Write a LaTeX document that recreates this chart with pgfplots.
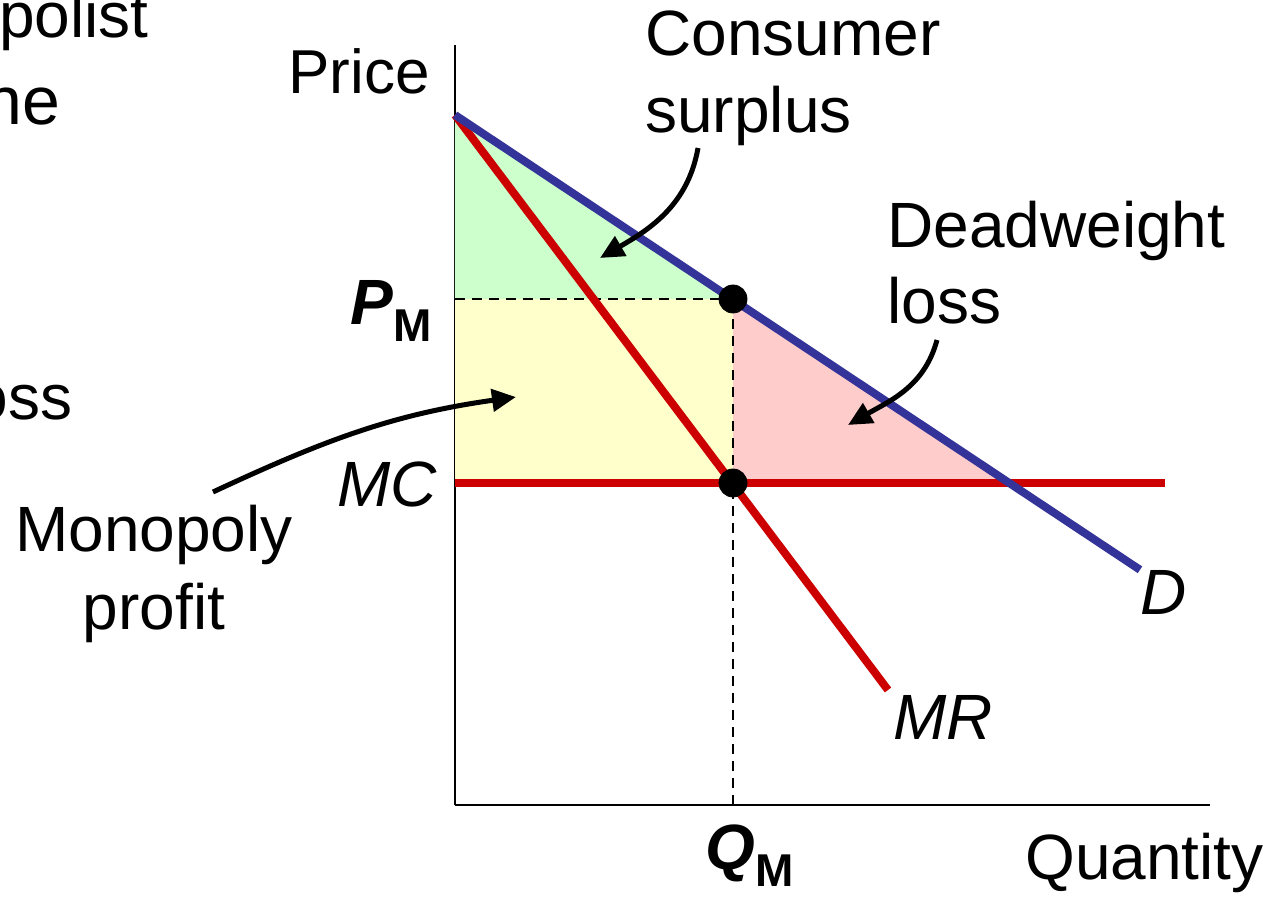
\documentclass[border=0pt]{standalone}
\usepackage{pgfplots}
\pgfplotsset{compat=1.18}
\usepackage{fontspec}
\setmainfont{Liberation Sans}
\usetikzlibrary{arrows.meta}
\definecolor{dblue}{HTML}{333399}
\definecolor{mred}{HTML}{CC0000}
\definecolor{csg}{HTML}{CCFFCC}
\definecolor{mpy}{HTML}{FFFFCC}
\definecolor{dwl}{HTML}{FFCCCC}
\newcommand\lab{\fontsize{32}{38}\selectfont}
\begin{document}
\begin{tikzpicture}[x=0.5pt,y=0.5pt]
\begin{axis}[
  at={(455,94)}, anchor=south west,
  scale only axis, width=377.5pt, height=380pt,
  xmin=0, xmax=755, ymin=0, ymax=760,
  axis x line=bottom, axis y line=left,
  axis line style={-, line width=1pt, black},
  xtick=\empty, ytick=\empty,
  clip=false,
]
% areas
\addplot[fill=csg, draw=none] coordinates {(0,690) (0,506) (278,506)} -- cycle;
\addplot[fill=mpy, draw=none] coordinates {(0,322) (278,322) (278,506) (0,506)} -- cycle;
\addplot[fill=dwl, draw=none] coordinates {(278,506) (278,322) (554.2,322)} -- cycle;
% dashed guides
\addplot[black, line width=1pt, dash pattern=on 5pt off 3.5pt] coordinates {(0,506) (278,506)};
\addplot[black, line width=1pt, dash pattern=on 5pt off 3.5pt] coordinates {(278,0) (278,506)};
% MC
\addplot[mred, line width=4pt] coordinates {(0,322) (710,322)};
% MR
\addplot[mred, line width=4pt] coordinates {(0,690) (433,115)};
% D
\addplot[dblue, line width=4pt] coordinates {(0,690) (685,235.2)};
% points
\addplot[only marks, mark=*, mark size=7pt, black] coordinates {(278,506) (278,322)};

% arrows
\draw[line width=2.5pt, -{Triangle[length=12pt,width=11pt]}] (axis cs:243,657) to[out=-100,in=30] (axis cs:145,547);
\draw[line width=2.5pt, -{Triangle[length=12pt,width=11pt]}] (axis cs:482,465) to[out=-105,in=30] (axis cs:393,380);
\draw[line width=2.5pt, -{Triangle[length=12pt,width=11pt]}] (axis cs:-242,313) to[out=25,in=188] (axis cs:61,408);

% labels
\node[anchor=base east, inner sep=0, font=\fontsize{31}{37}\selectfont] at (axis cs:-25,711) {Price};
\node[anchor=base west, inner sep=0, font=\lab] at (axis cs:190,749) {Consumer};
\node[anchor=base west, inner sep=0, font=\lab] at (axis cs:190,672) {surplus};
\node[anchor=base west, inner sep=0, font=\lab] at (axis cs:432,557) {Deadweight};
\node[anchor=base west, inner sep=0, font=\lab] at (axis cs:432,481) {loss};
\node[anchor=base east, inner sep=0, font=\lab] at (axis cs:-23,480) {\bfseries\itshape P\raisebox{-8.5pt}{\fontsize{23}{27}\selectfont\upshape M}};
\node[anchor=base east, inner sep=0, font=\lab] at (axis cs:-18,298) {\itshape MC};
\node[anchor=base, inner sep=0, font=\lab] at (axis cs:-301,253) {Monopoly};
\node[anchor=base, inner sep=0, font=\lab] at (axis cs:-301,175) {profit};
\node[anchor=base west, inner sep=0, font=\lab] at (axis cs:685,190) {\itshape D};
\node[anchor=base west, inner sep=0, font=\lab] at (axis cs:438,65) {\itshape MR};
\node[anchor=base west, inner sep=0, font=\lab] at (axis cs:250,-65) {\bfseries\itshape Q\raisebox{-8.5pt}{\fontsize{23}{27}\selectfont\upshape M}};
\node[anchor=base west, inner sep=0, font=\lab] at (axis cs:570,-75) {Quantity};
% fragments of neighbouring slide text, cut by the picture's left edge as in the reference
\node[anchor=base east, inner sep=0, font=\lab] at (axis cs:-306,767) {monopolist};
\node[anchor=base east, inner sep=0, font=\fontsize{34}{40}\selectfont] at (axis cs:-394,680) {one};
\node[anchor=base east, inner sep=0, font=\lab] at (axis cs:-382,385) {loss};
\end{axis}
\pgfresetboundingbox
\path[use as bounding box] (0,0) rectangle (1279,899);
\end{tikzpicture}
\end{document}
